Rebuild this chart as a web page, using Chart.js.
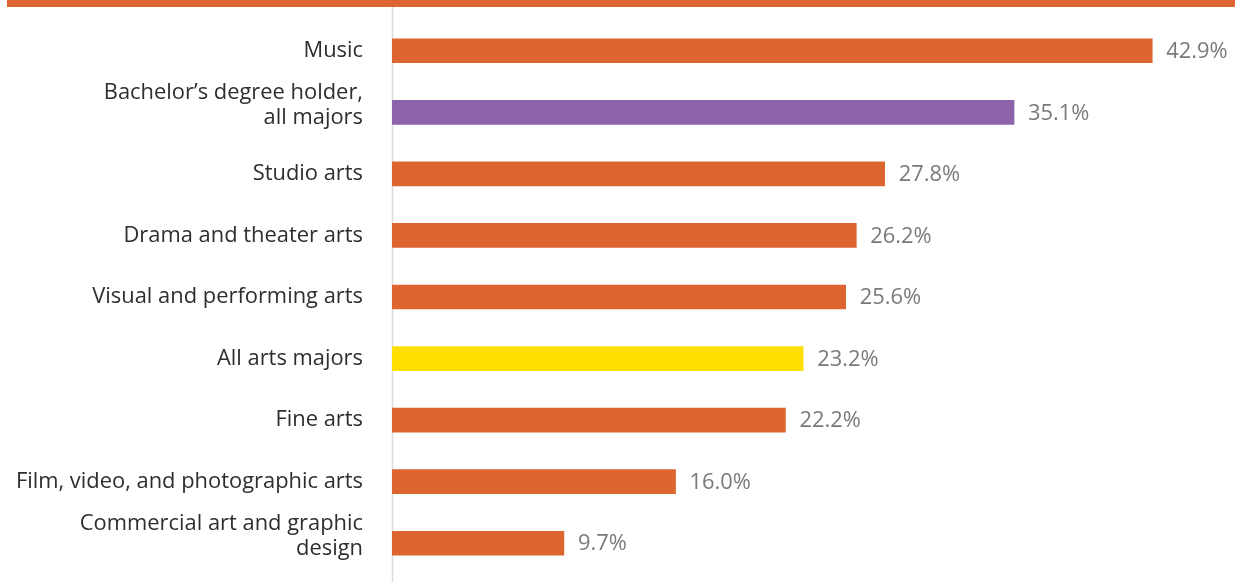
<!DOCTYPE html>
<html><head><meta charset="utf-8">
<script src="https://cdn.jsdelivr.net/npm/chart.js@4"></script>
<style>
html,body{margin:0;padding:0;background:#fff;}
#wrap{position:relative;width:1235px;height:582px;}
#band{position:absolute;left:7px;top:0;width:1228px;height:7px;background:#DD6630;}
canvas{position:absolute;left:0;top:0;}
</style></head><body>
<div id="wrap"><canvas id="c" width="1235" height="582"></canvas><div id="band"></div></div>
<script>
const categories = [
  "Music",
  ["Bachelor\u2019s degree holder,", "all majors"],
  "Studio arts",
  "Drama and theater arts",
  "Visual and performing arts",
  "All arts majors",
  "Fine arts",
  "Film, video, and photographic arts",
  ["Commercial art and graphic", "design"]
];
const values = [42.9, 35.1, 27.8, 26.2, 25.6, 23.2, 22.2, 16.0, 9.7];
const valueLabels = ["42.9%", "35.1%", "27.8%", "26.2%", "25.6%", "23.2%", "22.2%", "16.0%", "9.7%"];
const barColors = ["#DD6630", "#8C62AB", "#DD6630", "#DD6630", "#DD6630", "#FFDF00", "#DD6630", "#DD6630", "#DD6630"];

const FONT = "'Open Sans', sans-serif";
const FSIZE = 21.9;

const valuePlugin = {
  id: 'valueLabels',
  afterDatasetsDraw(chart) {
    const ctx = chart.ctx;
    const meta = chart.getDatasetMeta(0);
    ctx.save();
    ctx.font = FSIZE + "px " + FONT;
    ctx.fillStyle = "#7a7a7a";
    ctx.textBaseline = "middle";
    ctx.textAlign = "left";
    meta.data.forEach((bar, i) => {
      ctx.fillText(valueLabels[i], bar.x + 14, bar.y + 1);
    });
    ctx.restore();
  }
};
const axisLinePlugin = {
  id: 'axisLine',
  beforeDraw(chart) {
    // nudge multi-line category labels upward like the reference
    const items = chart.scales.y.getLabelItems(chart.chartArea);
    items.forEach(it => {
      if (Array.isArray(it.label) && !it._nudged) {
        it.options.translation[1] -= 7;
        it._nudged = true;
      }
    });
  },
  beforeDatasetsDraw(chart) {
    const ctx = chart.ctx;
    const x = chart.chartArea.left + 0.5;
    ctx.save();
    ctx.strokeStyle = "#dcdcdc";
    ctx.lineWidth = 1.5;
    ctx.beginPath();
    ctx.moveTo(x, 7);
    ctx.lineTo(x, 582);
    ctx.stroke();
    ctx.restore();
  }
};

new Chart(document.getElementById('c'), {
  type: 'bar',
  data: {
    labels: categories,
    datasets: [{ data: values, backgroundColor: barColors, barThickness: 24, borderWidth: 0 }]
  },
  options: {
    indexAxis: 'y',
    responsive: false,
    animation: false,
    layout: { padding: { top: 20, bottom: 8, left: 0, right: 0 } },
    plugins: { legend: { display: false }, tooltip: { enabled: false } },
    scales: {
      x: { display: false, min: 0, max: 47.57 },
      y: {
        afterFit(scale) { scale.width = 392; scale.paddingTop = 0; scale.paddingBottom = 0; },
        grid: { display: false, drawTicks: false },
        border: { display: false },
        ticks: { padding: 29, color: "#2e2e2e", font: { family: FONT, size: FSIZE, lineHeight: 1.13 } }
      }
    }
  },
  plugins: [axisLinePlugin, valuePlugin]
});
</script>
</body></html>
